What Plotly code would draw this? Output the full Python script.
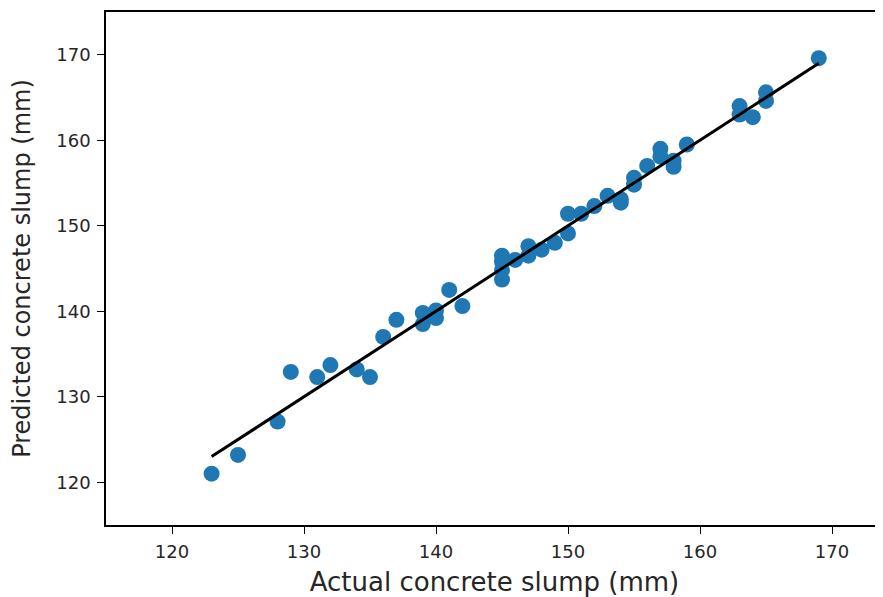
import plotly.graph_objects as go

actual = [123, 125, 128, 129, 131, 132, 134, 135, 136, 137, 139, 139, 140, 140, 141, 142,
          145, 145, 145, 145, 146, 147, 147, 148, 149, 150, 150, 151, 152, 153, 154, 154,
          155, 155, 156, 157, 157, 158, 158, 159, 163, 163, 164, 165, 165, 169]
predicted = [121.0, 123.2, 127.1, 132.9, 132.3, 133.7, 133.2, 132.3, 137.0, 139.0, 139.8, 138.5,
             140.1, 139.2, 142.5, 140.6, 146.5, 145.8, 144.8, 143.7, 146.0, 147.6, 146.5, 147.2,
             148.0, 151.4, 149.1, 151.4, 152.3, 153.5, 152.7, 153.1, 155.6, 154.8, 157.0, 159.0,
             158.1, 157.6, 156.9, 159.5, 164.0, 163.0, 162.7, 165.6, 164.6, 169.6]
tick_vals = [120, 130, 140, 150, 160, 170]

line_x = [min(actual), max(actual)]
line_y = [min(actual), max(actual)]

fig = go.Figure()
fig.add_trace(go.Scatter(x=actual, y=predicted, mode="markers",
                         marker=dict(color="#1f77b4", size=16, line=dict(width=0)),
                         showlegend=False))
fig.add_trace(go.Scatter(x=line_x, y=line_y, mode="lines",
                         line=dict(color="black", width=3), showlegend=False))

axis_common = dict(showgrid=False, zeroline=False, showline=True, linecolor="black",
                   linewidth=1.5, ticks="outside", ticklen=7, tickwidth=1.3, tickcolor="black",
                   tickvals=tick_vals, automargin=False, ticklabelstandoff=3,
                   tickfont=dict(family="DejaVu Sans", size=18, color="#262626"))

fig.update_layout(
    width=875, height=589,
    margin=dict(l=98, r=0, t=4, b=72, pad=0),
    paper_bgcolor="white", plot_bgcolor="white",
    font=dict(family="DejaVu Sans", color="#262626"),
    xaxis=dict(range=[115, 115 + 777 / 13.2], mirror=True,
               title=dict(text="Actual concrete slump (mm)", font=dict(size=26), standoff=15),
               **axis_common),
    yaxis=dict(range=[115, 175], mirror=False,
               title=dict(text="Predicted concrete slump (mm)", font=dict(size=24), standoff=19),
               **axis_common),
)

fig.write_html("out.html")
